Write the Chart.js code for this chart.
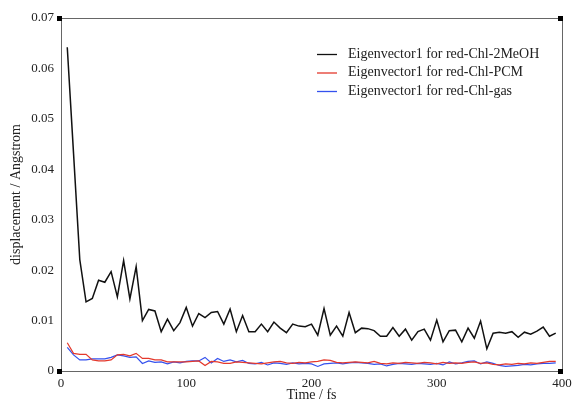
<!DOCTYPE html>
<html>
<head>
<meta charset="utf-8">
<script src="https://cdn.jsdelivr.net/npm/chart.js@4.4.0/dist/chart.umd.min.js"></script>
<style>
  html, body { margin: 0; padding: 0; background: #fff; }
  canvas { display: block; }
</style>
</head>
<body>
<canvas id="dispChart" width="573" height="402"></canvas>
<script>
// time axis (fs)
const tempos = [5, 10, 15, 20, 25, 30, 35, 40, 45, 50, 55, 60, 65, 70, 75, 80, 85, 90, 95, 100,
  105, 110, 115, 120, 125, 130, 135, 140, 145, 150, 155, 160, 165, 170, 175, 180, 185, 190, 195, 200,
  205, 210, 215, 220, 225, 230, 235, 240, 245, 250, 255, 260, 265, 270, 275, 280, 285, 290, 295, 300,
  305, 310, 315, 320, 325, 330, 335, 340, 345, 350, 355, 360, 365, 370, 375, 380, 385, 390, 395];

// displacement (Angstrom) per run
const meoh = [0.0642, 0.0432, 0.0221, 0.0137, 0.0144, 0.0180, 0.0176, 0.0197, 0.0147, 0.0219,
  0.0143, 0.0207, 0.0100, 0.0122, 0.0119, 0.0078, 0.0103, 0.0080, 0.0096, 0.0126,
  0.0089, 0.0114, 0.0106, 0.0116, 0.0118, 0.0093, 0.0123, 0.0078, 0.0110, 0.0078,
  0.0078, 0.0093, 0.0078, 0.0097, 0.0085, 0.0076, 0.0093, 0.0089, 0.0088, 0.0093,
  0.0071, 0.0124, 0.0071, 0.0089, 0.0069, 0.0116, 0.0076, 0.0085, 0.0084, 0.0080,
  0.0069, 0.0069, 0.0086, 0.0069, 0.0083, 0.0061, 0.0078, 0.0083, 0.0061, 0.0101,
  0.0058, 0.0080, 0.0081, 0.0058, 0.0085, 0.0065, 0.0099, 0.0044, 0.0075, 0.0077,
  0.0075, 0.0078, 0.0067, 0.0077, 0.0073, 0.0079, 0.0087, 0.0069, 0.0075];

const pcm = [0.0056, 0.0035, 0.0033, 0.0033, 0.0022, 0.0020, 0.0020, 0.0022, 0.0032, 0.0033,
  0.0030, 0.0035, 0.0025, 0.0025, 0.0022, 0.0022, 0.0018, 0.0018, 0.0018, 0.0018,
  0.0019, 0.0020, 0.0011, 0.0019, 0.0018, 0.0015, 0.0015, 0.0018, 0.0017, 0.0016,
  0.0015, 0.0014, 0.0016, 0.0018, 0.0019, 0.0016, 0.0015, 0.0017, 0.0016, 0.0018,
  0.0019, 0.0022, 0.0021, 0.0017, 0.0016, 0.0017, 0.0018, 0.0017, 0.0016, 0.0019,
  0.0015, 0.0014, 0.0016, 0.0015, 0.0017, 0.0016, 0.0015, 0.0017, 0.0016, 0.0014,
  0.0017, 0.0015, 0.0016, 0.0015, 0.0017, 0.0018, 0.0015, 0.0016, 0.0013, 0.0012,
  0.0014, 0.0013, 0.0015, 0.0014, 0.0016, 0.0015, 0.0017, 0.0019, 0.0019];

const gas = [0.0047, 0.0032, 0.0022, 0.0022, 0.0024, 0.0024, 0.0024, 0.0027, 0.0032, 0.0030,
  0.0027, 0.0028, 0.0015, 0.0020, 0.0017, 0.0018, 0.0014, 0.0018, 0.0016, 0.0019,
  0.0020, 0.0020, 0.0027, 0.0016, 0.0025, 0.0019, 0.0022, 0.0018, 0.0021, 0.0015,
  0.0014, 0.0017, 0.0012, 0.0016, 0.0015, 0.0013, 0.0016, 0.0014, 0.0015, 0.0014,
  0.0009, 0.0014, 0.0015, 0.0016, 0.0014, 0.0016, 0.0017, 0.0016, 0.0015, 0.0013,
  0.0014, 0.0010, 0.0013, 0.0015, 0.0014, 0.0013, 0.0015, 0.0014, 0.0013, 0.0015,
  0.0012, 0.0018, 0.0014, 0.0016, 0.0019, 0.0020, 0.0014, 0.0018, 0.0015, 0.0011,
  0.0009, 0.0010, 0.0011, 0.0013, 0.0012, 0.0014, 0.0015, 0.0015, 0.0016];

const nomes = ['Eigenvector1 for red-Chl-2MeOH', 'Eigenvector1 for red-Chl-PCM', 'Eigenvector1 for red-Chl-gas'];
const cores = ['#111111', '#e4392c', '#3451ee'];
const xTicks = [0, 100, 200, 300, 400];
const yTicks = [0, 0.01, 0.02, 0.03, 0.04, 0.05, 0.06, 0.07];

const serif = '"Liberation Serif", "DejaVu Serif", serif';
const pares = (ys) => tempos.map((t, i) => ({ x: t, y: ys[i] }));

// moldura cinza + quadradinhos pretos nos cantos
const moldura = {
  id: 'moldura',
  beforeDatasetsDraw(chart) {
    const { ctx, chartArea: a } = chart;
    ctx.save();
    ctx.strokeStyle = '#666';
    ctx.lineWidth = 1;
    ctx.strokeRect(a.left + 0.5, a.top + 0.5, a.right - a.left, a.bottom - a.top);
    ctx.fillStyle = '#000';
    [[a.left, a.top], [a.right, a.top], [a.left, a.bottom], [a.right, a.bottom]].forEach(([x, y]) => {
      ctx.fillRect(Math.round(x) - 4, Math.round(y) - 2, 5, 5);
    });
    ctx.restore();
  }
};

// legenda dentro da área do gráfico
const legendaInterna = {
  id: 'legendaInterna',
  afterDatasetsDraw(chart) {
    const { ctx, chartArea: a } = chart;
    ctx.save();
    ctx.font = '14px ' + serif;
    ctx.textBaseline = 'middle';
    chart.data.datasets.forEach((ds, i) => {
      const y = a.top + 36 + i * 18.5;
      ctx.strokeStyle = ds.borderColor;
      ctx.lineWidth = 1.3;
      ctx.beginPath();
      ctx.moveTo(a.left + 256, y + 0.5);
      ctx.lineTo(a.left + 276, y + 0.5);
      ctx.stroke();
      ctx.fillStyle = '#222';
      ctx.fillText(ds.label, a.left + 287, y);
    });
    ctx.restore();
  }
};

new Chart(document.getElementById('dispChart'), {
  type: 'line',
  data: {
    datasets: [
      { label: nomes[0], data: pares(meoh), borderColor: cores[0], borderWidth: 1.5 },
      { label: nomes[1], data: pares(pcm), borderColor: cores[1], borderWidth: 1.2 },
      { label: nomes[2], data: pares(gas), borderColor: cores[2], borderWidth: 1.2 }
    ]
  },
  options: {
    responsive: false,
    devicePixelRatio: 1,
    animation: false,
    elements: { point: { radius: 0 }, line: { tension: 0, fill: false } },
    layout: { padding: { left: 0, top: 18, right: 11, bottom: 0 } },
    plugins: { legend: { display: false }, tooltip: { enabled: false } },
    scales: {
      x: {
        type: 'linear',
        min: 0, max: 400,
        afterBuildTicks: (s) => { s.ticks = xTicks.map(v => ({ value: v })); },
        afterFit: (s) => { s.height = 31; s.paddingLeft = 0; s.paddingRight = 0; },
        grid: { display: false, drawTicks: false },
        border: { display: false },
        ticks: { color: '#222', font: { family: serif, size: 13 }, padding: 5, maxRotation: 0 },
        title: { display: true, text: 'Time / fs', color: '#222', font: { family: serif, size: 14, lineHeight: 1 }, padding: { top: 0, bottom: 0 } }
      },
      y: {
        min: 0, max: 0.07,
        afterBuildTicks: (s) => { s.ticks = yTicks.map(v => ({ value: v })); },
        afterFit: (s) => { s.width = 61; s.paddingTop = 0; s.paddingBottom = 0; },
        grid: { display: false, drawTicks: false },
        border: { display: false },
        ticks: {
          color: '#222', font: { family: serif, size: 13 }, padding: 7,
          callback: (v) => v === 0 ? '0' : v.toFixed(2)
        },
        title: { display: true, text: 'displacement / Angstrom', color: '#222', font: { family: serif, size: 14 }, padding: { top: 8, bottom: 0 } }
      }
    }
  },
  plugins: [moldura, legendaInterna]
});
</script>
</body>
</html>
